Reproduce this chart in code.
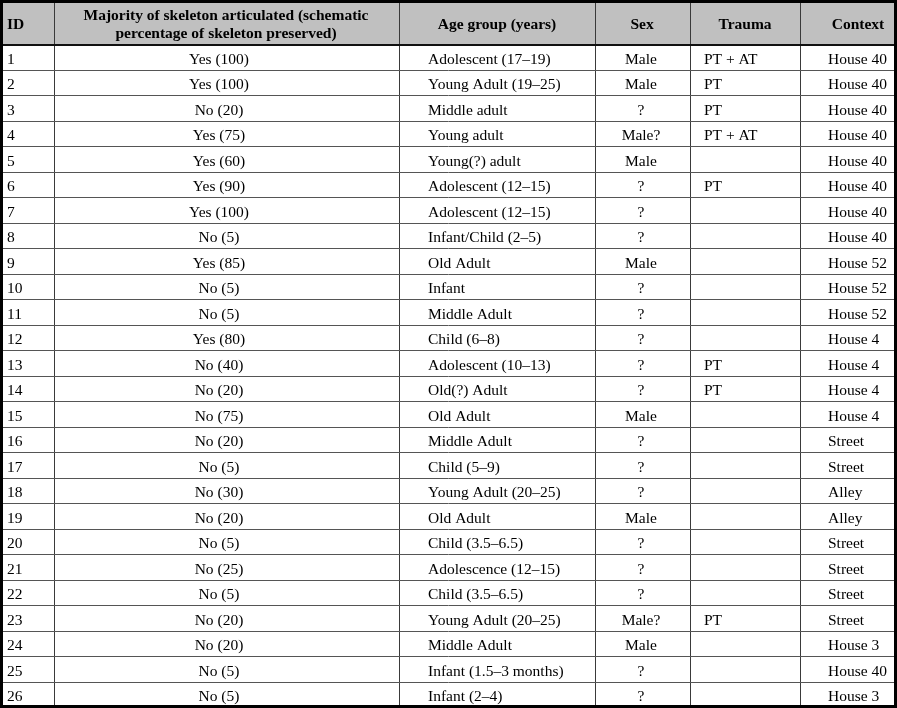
<!DOCTYPE html>
<html>
<head>
<meta charset="utf-8">
<script src="https://cdn.jsdelivr.net/npm/chart.js@4.4.0/dist/chart.umd.min.js"></script>
<style>
  html, body { margin: 0; padding: 0; background: #fff; }
  #wrap { width: 897px; height: 708px; position: relative; }
</style>
</head>
<body>
<div id="wrap"><canvas id="myChart"></canvas></div>
<script>
// table content
const headers = [
    ["ID"],
    ["Majority of skeleton articulated (schematic", "percentage of skeleton preserved)"],
    ["Age group (years)"],
    ["Sex"],
    ["Trauma"],
    ["Context"],
];
const ids = ["1", "2", "3", "4", "5", "6", "7", "8", "9", "10", "11", "12", "13",
    "14", "15", "16", "17", "18", "19", "20", "21", "22", "23", "24", "25", "26"];
const articulated = ["Yes (100)", "Yes (100)", "No (20)", "Yes (75)", "Yes (60)", "Yes (90)",
    "Yes (100)", "No (5)", "Yes (85)", "No (5)", "No (5)", "Yes (80)", "No (40)", "No (20)",
    "No (75)", "No (20)", "No (5)", "No (30)", "No (20)", "No (5)", "No (25)", "No (5)",
    "No (20)", "No (20)", "No (5)", "No (5)"];
const ageGroups = ["Adolescent (17–19)", "Young Adult (19–25)", "Middle adult", "Young adult",
    "Young(?) adult", "Adolescent (12–15)", "Adolescent (12–15)", "Infant/Child (2–5)",
    "Old Adult", "Infant", "Middle Adult", "Child (6–8)", "Adolescent (10–13)", "Old(?) Adult",
    "Old Adult", "Middle Adult", "Child (5–9)", "Young Adult (20–25)", "Old Adult",
    "Child (3.5–6.5)", "Adolescence (12–15)", "Child (3.5–6.5)", "Young Adult (20–25)",
    "Middle Adult", "Infant (1.5–3 months)", "Infant (2–4)"];
const sexes = ["Male", "Male", "?", "Male?", "Male", "?", "?", "?", "Male", "?", "?", "?", "?",
    "?", "Male", "?", "?", "?", "Male", "?", "?", "?", "Male?", "Male", "?", "?"];
const traumas = ["PT + AT", "PT", "PT", "PT + AT", "", "PT", "", "", "", "", "", "", "PT", "PT",
    "", "", "", "", "", "", "", "", "PT", "", "", ""];
const contexts = ["House 40", "House 40", "House 40", "House 40", "House 40", "House 40",
    "House 40", "House 40", "House 52", "House 52", "House 52", "House 4", "House 4", "House 4",
    "House 4", "Street", "Street", "Alley", "Alley", "Street", "Street", "Street", "Street",
    "House 3", "House 40", "House 3"];

const columns = [ids, articulated, ageGroups, sexes, traumas, contexts];

// layout (x in pixel-like units of the x scale)
const colEdges = [0, 54, 399, 595, 690, 800, 897];
const cellAnchor = [
    { x: 7, align: "left" },
    { x: 219, align: "center" },
    { x: 428, align: "left" },
    { x: 641, align: "center" },
    { x: 704, align: "left" },
    { x: 828, align: "left" },
];
const headAnchor = [
    { x: 7, align: "left" },
    { x: 226, align: "center" },
    { x: 497, align: "center" },
    { x: 642, align: "center" },
    { x: 745, align: "center" },
    { x: 858, align: "center" },
];
const headerRows = 1.76; // header height in row units

const tablePlugin = {
    id: "tableText",
    beforeDraw(chart) {
        const { ctx } = chart;
        const x = chart.scales.x, y = chart.scales.y;
        const top = y.getPixelForValue(-headerRows);
        const bottom = y.getPixelForValue(0);
        ctx.save();
        ctx.fillStyle = "#c0c0c0";
        ctx.fillRect(x.getPixelForValue(0), top, x.getPixelForValue(897), bottom - top);
        ctx.restore();
    },
    afterDraw(chart) {
        const { ctx } = chart;
        const x = chart.scales.x, y = chart.scales.y;
        ctx.save();
        ctx.fillStyle = "#000";
        ctx.textBaseline = "middle";

        // header
        ctx.font = "bold 15.5px 'Liberation Serif'";
        const hMid = y.getPixelForValue(-headerRows / 2) + 3;
        headers.forEach((lines, c) => {
            ctx.textAlign = headAnchor[c].align;
            const px = x.getPixelForValue(headAnchor[c].x);
            lines.forEach((line, k) => {
                const py = hMid + (k - (lines.length - 1) / 2) * 18;
                ctx.fillText(line, px, py);
            });
        });

        // body cells
        ctx.font = "15.5px 'Liberation Serif'";
        columns.forEach((col, c) => {
            ctx.textAlign = cellAnchor[c].align;
            const px = x.getPixelForValue(cellAnchor[c].x);
            col.forEach((txt, r) => {
                if (!txt) return;
                ctx.fillText(txt, px, y.getPixelForValue(r + 0.5) + 2);
            });
        });

        // outer frame
        ctx.strokeStyle = "#000";
        ctx.lineWidth = 3;
        ctx.strokeRect(1.5, 1.5, chart.width - 3, chart.height - 3);
        ctx.restore();
    },
};

new window.Chart(document.getElementById("myChart").getContext("2d"), {
    type: "scatter",
    data: { datasets: [] },
    plugins: [tablePlugin],
    options: {
        responsive: true,
        maintainAspectRatio: false,
        animation: false,
        layout: { padding: 0 },
        plugins: { legend: { display: false }, tooltip: { enabled: false } },
        scales: {
            x: {
                type: "linear",
                min: 0,
                max: 897,
                afterBuildTicks: (scale) => {
                    scale.ticks = colEdges.map((v) => ({ value: v }));
                },
                ticks: { display: false },
                border: { display: false },
                grid: { drawTicks: false, color: "#3a3a3a", lineWidth: 1 },
            },
            y: {
                type: "linear",
                reverse: true,
                min: -headerRows,
                max: ids.length,
                afterBuildTicks: (scale) => {
                    scale.ticks = ids.map((_, i) => ({ value: i })).concat([{ value: ids.length }]);
                },
                ticks: { display: false },
                border: { display: false },
                grid: {
                    drawTicks: false,
                    color: (c) => (c.tick && c.tick.value === 0 ? "#111" : "#555"),
                    lineWidth: (c) => (c.tick && c.tick.value === 0 ? 2 : 1),
                },
            },
        },
    },
});
</script>
</body>
</html>
